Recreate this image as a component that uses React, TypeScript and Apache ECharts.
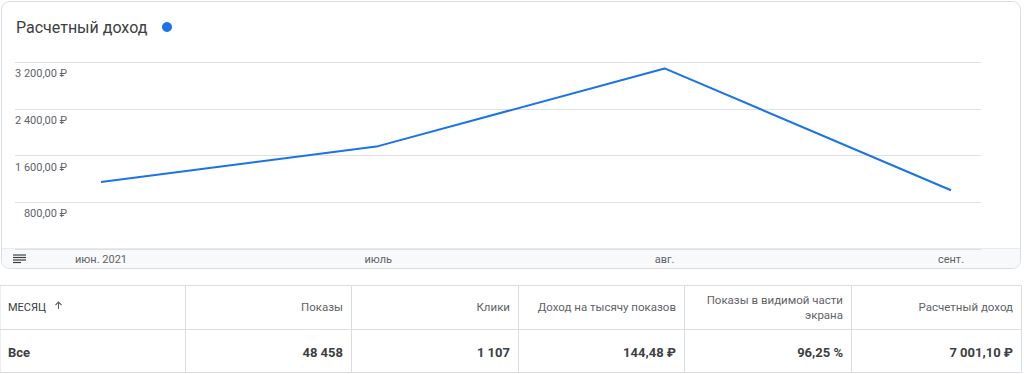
import React, { useEffect, useRef } from "react";
import * as echarts from "echarts";

// ---- data ----
const monthLabels = ["июн. 2021", "июль", "авг.", "сент."];
const monthStarts = ["2021-06-01", "2021-07-01", "2021-08-01", "2021-09-01"];
const revenue = [1145, 1760, 3090, 1006];
const yMax = 3200;
const yStep = 800;
const chartTitle = "Расчетный доход";
const tableHeaders = ["Показы", "Клики", "Доход на тысячу показов", "Показы в видимой части\nэкрана", "Расчетный доход"];
const tableTotals = ["48 458", "1 107", "144,48 ₽", "96,25 %", "7 001,10 ₽"];
const firstColHeader = "МЕСЯЦ";
const firstColTotal = "Все";

const DAY = 86400000;
const toTs = (s: string) => {
  const [y, m, d] = s.split("-").map(Number);
  return Date.UTC(y, m - 1, d);
};
const monthTs = monthStarts.map(toTs);

const fmtRub = (v: number) => {
  const [i, f] = v.toFixed(2).split(".");
  const grouped = i.replace(/\B(?=(\d{3})+(?!\d))/g, " ");
  return `${grouped},${f} ₽`;
};

const FONT = "Roboto, 'Noto Sans', sans-serif";
const BLUE = "#1a73e8";
const GRAY_TXT = "#5f6368";
const DARK_TXT = "#3c4043";
const BORDER = "#dadce0";

export default function App() {
  const ref = useRef<HTMLDivElement>(null);
  useEffect(() => {
    if (!ref.current) return;
    const chart = echarts.init(ref.current, undefined, { renderer: "svg" });

    const colEdges = [0, 185.5, 351.5, 518.5, 684.5, 851.5, 1021.5];
    const tableTop = 285.5;
    const tableMid = 329.5;
    const tableBot = 372.5;

    const graphics: any[] = [];
    // card
    graphics.push({
      type: "rect",
      z: -2,
      shape: { x: 1.5, y: 1.5, width: 1019, height: 267, r: 8 },
      style: { fill: "#fff", stroke: BORDER, lineWidth: 1 },
    });
    // bottom band of card
    graphics.push({
      type: "rect",
      z: -1,
      shape: { x: 2, y: 248.5, width: 1018, height: 19.5, r: [0, 0, 7, 7] },
      style: { fill: "#f8f9fa" },
    });
    graphics.push({
      type: "line",
      z: -1,
      shape: { x1: 2, y1: 248.5, x2: 1020, y2: 248.5 },
      style: { stroke: "#e8eaed", lineWidth: 1 },
    });
    // hamburger icon
    [255, 257.5, 260, 262.5].forEach((y, i) => {
      graphics.push({
        type: "line",
        shape: { x1: 13, y1: y, x2: i === 3 ? 21 : 26, y2: y },
        style: { stroke: DARK_TXT, lineWidth: 1.2 },
      });
    });
    // title
    graphics.push({
      type: "text",
      x: 16,
      y: 27,
      style: { text: chartTitle, font: `400 16px ${FONT}`, fill: DARK_TXT, verticalAlign: "middle", align: "left" },
    });
    graphics.push({
      type: "circle",
      shape: { cx: 167, cy: 27, r: 5 },
      style: { fill: BLUE },
    });
    // table lines
    [tableTop, tableMid, tableBot].forEach((y) => {
      graphics.push({
        type: "line",
        shape: { x1: 0, y1: y, x2: 1021.5, y2: y },
        style: { stroke: BORDER, lineWidth: 1 },
      });
    });
    colEdges.forEach((x) => {
      graphics.push({
        type: "line",
        shape: { x1: x, y1: tableTop, x2: x, y2: tableBot },
        style: { stroke: BORDER, lineWidth: 1 },
      });
    });
    // table header
    graphics.push({
      type: "text",
      x: 8,
      y: 307.5,
      style: { text: firstColHeader, font: `400 11px ${FONT}`, fill: DARK_TXT, verticalAlign: "middle" },
    });
    // sort arrow
    graphics.push({
      type: "polyline",
      shape: { points: [[55.5, 305], [58.5, 302], [61.5, 305]] },
      style: { stroke: GRAY_TXT, lineWidth: 1.1, fill: "none" },
    });
    graphics.push({
      type: "line",
      shape: { x1: 58.5, y1: 302, x2: 58.5, y2: 309 },
      style: { stroke: GRAY_TXT, lineWidth: 1.1 },
    });
    graphics.push({
      type: "text",
      x: 8,
      y: 352,
      style: { text: firstColTotal, font: `700 13px ${FONT}`, fill: DARK_TXT, verticalAlign: "middle" },
    });
    tableHeaders.forEach((h, i) => {
      const right = colEdges[i + 2] - 8.5;
      graphics.push({
        type: "text",
        x: right,
        y: 307,
        style: {
          text: h,
          font: `400 11.5px ${FONT}`,
          fill: GRAY_TXT,
          align: "right",
          verticalAlign: "middle",
          lineHeight: 15,
        },
      });
      graphics.push({
        type: "text",
        x: right,
        y: 352,
        style: {
          text: tableTotals[i],
          font: `700 13px ${FONT}`,
          fill: DARK_TXT,
          align: "right",
          verticalAlign: "middle",
        },
      });
    });

    // x range so that month starts align with picture
    const pxPerDay = 850 / 92;
    const xMin = monthTs[0] - (86 / pxPerDay) * DAY;
    const xMax = monthTs[3] + (30 / pxPerDay) * DAY;

    chart.setOption({
      animation: false,
      textStyle: { fontFamily: FONT },
      grid: { left: 15, right: 43, top: 62, bottom: 125 },
      xAxis: {
        type: "value",
        min: xMin,
        max: xMax,
        axisLine: { show: false },
        axisTick: { show: false },
        splitLine: { show: false },
        axisLabel: {
          customValues: monthTs,
          margin: 5,
          fontSize: 11,
          color: GRAY_TXT,
          fontFamily: FONT,
          showMinLabel: true,
          showMaxLabel: true,
          formatter: (v: number) => {
            const idx = monthTs.findIndex((t) => Math.abs(t - v) < DAY / 2);
            return idx >= 0 ? monthLabels[idx] : "";
          },
        },
      },
      yAxis: {
        type: "value",
        min: 0,
        max: yMax,
        interval: yStep,
        axisLine: { show: false },
        axisTick: { show: false },
        splitLine: { lineStyle: { color: "#e0e0e0", width: 1 } },
        axisLabel: {
          inside: true,
          align: "right",
          verticalAlign: "top",
          margin: 52,
          padding: [6, 0, 0, 0],
          showMinLabel: false,
          fontSize: 11,
          color: GRAY_TXT,
          fontFamily: FONT,
          formatter: (v: number) => fmtRub(v),
        },
      },
      series: [
        {
          type: "line",
          data: monthTs.map((t, i) => [t, revenue[i]]),
          showSymbol: false,
          lineStyle: { color: BLUE, width: 2 },
          itemStyle: { color: BLUE },
          z: 3,
        },
      ],
      graphic: graphics,
    });

    return () => chart.dispose();
  }, []);

  return (
    <div
      ref={ref}
      style={{ position: "absolute", left: 0, top: 0, width: 1024, height: 374, background: "#fff" }}
    />
  );
}
